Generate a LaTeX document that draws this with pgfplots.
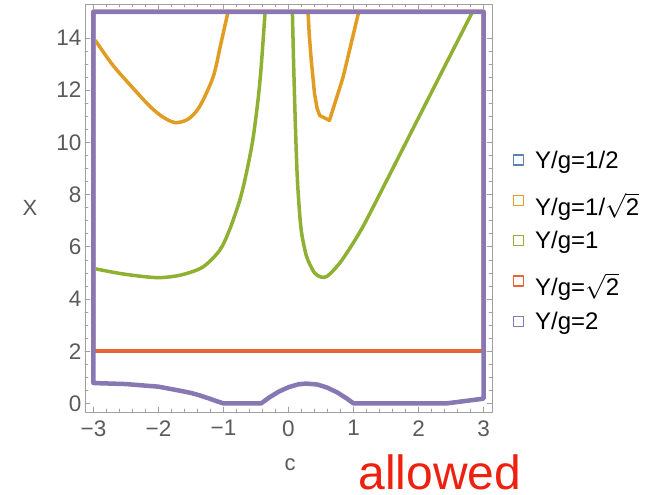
\documentclass[border=0pt]{standalone}
\usepackage{pgfplots}
\pgfplotsset{compat=1.18}
\usepackage{fontspec}
\setmainfont{Liberation Sans}
\definecolor{mBlue}{HTML}{5E81B5}
\definecolor{mOrange}{HTML}{E19C24}
\definecolor{mGreen}{HTML}{8FB032}
\definecolor{mRed}{HTML}{EB6235}
\definecolor{mPurple}{HTML}{8778B3}
\definecolor{tickgray}{HTML}{5A5A5A}
\definecolor{framegray}{HTML}{A0A0A0}
\definecolor{allowedred}{HTML}{EE2010}
\begin{document}
\begin{tikzpicture}
\useasboundingbox (0,0) rectangle (656bp,495bp);
\begin{axis}[
  at={(85bp,83bp)}, anchor=south west,
  scale only axis, width=407bp, height=408bp,
  clip mode=individual,
  xmin=-3.13, xmax=3.13, ymin=-0.33, ymax=15.3,
  xtick={-3,-2,-1,0,1,2,3},
  xticklabels={−3,−2,−1,0,1,2,3},
  ytick={0,2,4,6,8,10,12,14},
  yticklabels={0,2,4,6,8,10,12,14},
  minor x tick num=4, minor y tick num=3,
  tick align=inside,
  major tick length=5bp, minor tick length=3bp,
  axis line style={framegray, line width=0.8bp},
  every tick/.style={framegray, line width=0.6bp},
  tick label style={font=\fontsize{22.5bp}{24bp}\selectfont, text=tickgray},
  xticklabel style={yshift=-5bp},
  xlabel={c}, ylabel={X},
  every axis x label/.style={at={(axis description cs:0.504,-0.13)}, anchor=center, font=\fontsize{22bp}{24bp}\selectfont, text=tickgray},
  every axis y label/.style={at={(axis description cs:-0.135,0.5)}, anchor=center, font=\fontsize{22bp}{24bp}\selectfont, text=tickgray},
  legend style={at={(axis description cs:1.05,0.42)}, anchor=west, draw=none, fill=none,
    font=\fontsize{24bp}{26bp}\selectfont, row sep=10.5bp, inner sep=0pt},
  legend cell align=left,
  legend image code/.code={\draw[#1, line width=1.3bp, fill=none] (0bp,-5bp) rectangle (10bp,5bp);
     \path[draw=none, fill=none] (0bp,0bp) -- (20bp,0bp);},
  line join=round, line cap=round,
]
\addlegendimage{draw=mBlue}
\addlegendentry{Y/g=1/2}
\addlegendimage{draw=mOrange}
\addlegendentry{\rule{0pt}{1.3em}Y/g=1/$\sqrt{\mbox{2}}$}
\addlegendimage{draw=mGreen}
\addlegendentry{Y/g=1}
\addlegendimage{draw=mRed}
\addlegendentry{\rule{0pt}{1.3em}Y/g=$\sqrt{\mbox{2}}$}
\addlegendimage{draw=mPurple}
\addlegendentry{Y/g=2}
% orange Y/g = 1/sqrt2
\addplot[color=mOrange, line width=3.5bp, smooth, forget plot] coordinates {
(-2.97,13.9) (-2.7,12.95) (-2.4,12.1) (-2.14,11.4) (-1.95,11.0) (-1.75,10.76) (-1.55,10.88) (-1.37,11.36) (-1.16,12.5) (-1.04,13.78) (-0.93,15)
};
\addplot[color=mOrange, line width=3.5bp, forget plot] coordinates {
(0.30,15) (0.32,14.1) (0.35,13.14) (0.40,11.87) (0.44,11.3) (0.48,11.03) (0.63,10.84) (0.84,12.5) (1.08,15)
};
% green Y/g = 1
\addplot[color=mGreen, line width=3.5bp, smooth, forget plot] coordinates {
(-3,5.17) (-2.6,4.98) (-2.2,4.85) (-1.95,4.82) (-1.65,4.92) (-1.32,5.22) (-1.06,5.86) (-0.91,6.63) (-0.75,7.78) (-0.65,8.8) (-0.55,10.08) (-0.47,11.6) (-0.42,12.9) (-0.36,15)
};
\addplot[color=mGreen, line width=3.5bp, smooth, forget plot] coordinates {
(0.06,15) (0.08,12.9) (0.11,10.33) (0.14,8.42) (0.19,6.75) (0.25,5.9) (0.30,5.48) (0.4,5.0) (0.5,4.84) (0.6,4.88) (0.78,5.35) (0.94,5.93) (1.14,6.75) (1.4,8.0) (1.91,10.5) (2.4,12.9) (2.83,15)
};
% red Y/g = sqrt2
\addplot[color=mRed!45!white, line width=5.3bp, forget plot] coordinates {
(-3,2) (-3,15) (3,15) (3,2)
};
\addplot[color=mRed, line width=4bp, forget plot] coordinates {
(-3,2) (3,2)
};
% purple Y/g = 2
\addplot[color=mPurple, line width=4.5bp, forget plot] coordinates {
(-3,15) (-3,0.78) (-2.5,0.74) (-2,0.64) (-1.7,0.5) (-1.5,0.4) (-1.37,0.31) (-1.2,0.17) (-1.1,0.08) (-1.0,0)
(-0.42,0) (-0.3,0.22) (-0.15,0.45) (0,0.62) (0.15,0.73) (0.27,0.76) (0.45,0.72) (0.6,0.6) (0.75,0.42) (0.9,0.18) (1.0,0)
(2.43,0) (3,0.18) (3,15) (-3,15)
};
\node[anchor=base, text=allowedred, font=\fontsize{48bp}{50bp}\selectfont, inner sep=0pt] at (axis description cs:0.872,-0.19) {allowed};
\end{axis}
\end{tikzpicture}
\end{document}
